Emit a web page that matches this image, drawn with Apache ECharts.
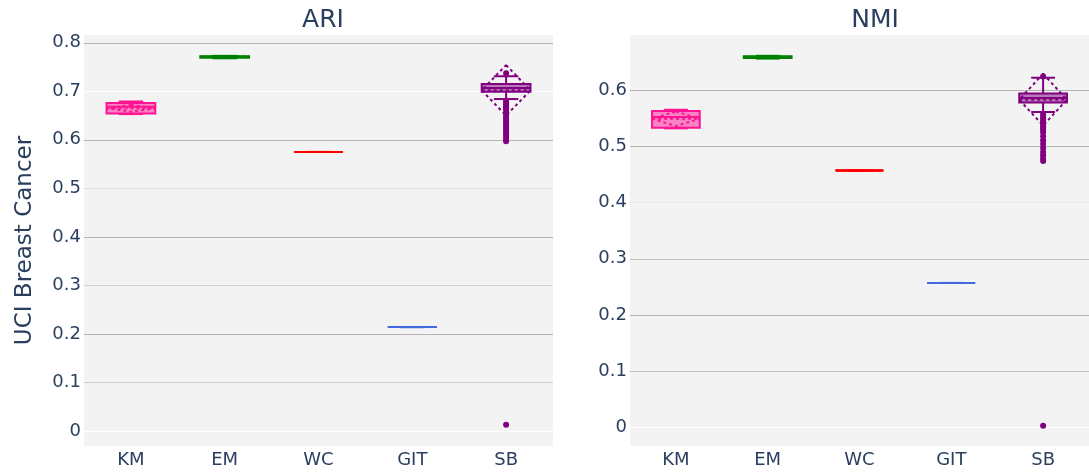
<!DOCTYPE html>
<html>

<head>
  <meta charset="utf-8" />
  <script src="https://cdn.jsdelivr.net/npm/echarts@6/dist/echarts.min.js"></script>
</head>

<body style="margin:0;background:#fff">
  <div id="main" style="width:1089px;height:472px;"></div>
  <script type="text/javascript">
    var categories = ['KM', 'EM', 'WC', 'GIT', 'SB']
    var boxColors = ['#ff1493', '#008000', '#ff0000', '#4169e1', '#800080']
    var ariTicks = [0, 0.1, 0.2, 0.3, 0.4, 0.5, 0.6, 0.7, 0.8]
    var nmiTicks = [0, 0.1, 0.2, 0.3, 0.4, 0.5, 0.6]

    // [min, q1, median, q3, max, mean, sd]
    var ariStats = [
      [0.653, 0.654, 0.668, 0.676, 0.679, 0.665, 0.007],
      [0.768, 0.769, 0.771, 0.772, 0.773, 0.771, 0.001],
      [0.575, 0.575, 0.575, 0.575, 0.575, 0.575, 0],
      [0.214, 0.214, 0.214, 0.214, 0.214, 0.214, 0],
      [0.684, 0.699, 0.707, 0.715, 0.731, 0.702, 0.052]
    ]
    var nmiStats = [
      [0.532, 0.533, 0.552, 0.563, 0.565, 0.549, 0.013],
      [0.656, 0.657, 0.659, 0.660, 0.661, 0.659, 0.001],
      [0.457, 0.457, 0.457, 0.457, 0.457, 0.457, 0],
      [0.257, 0.257, 0.257, 0.257, 0.257, 0.257, 0],
      [0.561, 0.578, 0.586, 0.594, 0.622, 0.583, 0.046]
    ]

    // [category index, value]
    var ariOutliers = [
      [4, 0.737], [4, 0.681], [4, 0.677], [4, 0.673], [4, 0.669], [4, 0.666],
      [4, 0.662], [4, 0.657], [4, 0.653], [4, 0.648], [4, 0.644], [4, 0.640],
      [4, 0.635], [4, 0.631], [4, 0.627], [4, 0.622], [4, 0.618], [4, 0.613],
      [4, 0.609], [4, 0.604], [4, 0.600], [4, 0.597], [4, 0.013]
    ]
    var nmiOutliers = [
      [4, 0.624], [4, 0.558], [4, 0.554], [4, 0.550], [4, 0.546], [4, 0.542],
      [4, 0.538], [4, 0.534], [4, 0.530], [4, 0.525], [4, 0.518], [4, 0.511],
      [4, 0.504], [4, 0.497], [4, 0.490], [4, 0.484], [4, 0.478], [4, 0.474],
      [4, 0.003]
    ]

    var ariGridColors = ['#ffffff', '#cfcfcf', '#b6b6b6', '#d2d2d2', '#b6b6b6', '#dcdcdc', '#b6b6b6', '#ffffff', '#b6b6b6']
    var nmiGridColors = ['#ffffff', '#bdbdbd', '#b4b4b4', '#c2c2c2', '#e8e8e8', '#b6b6b6', '#b6b6b6']

    var textColor = '#2a3f5f'
    var font = 'DejaVu Sans'

    var myChart = echarts.init(document.getElementById('main'))

    function fade(hex) {
      var r = parseInt(hex.slice(1, 3), 16), g = parseInt(hex.slice(3, 5), 16), b = parseInt(hex.slice(5, 7), 16)
      return 'rgba(' + r + ',' + g + ',' + b + ',0.5)'
    }

    // plotly-like box: box, median, whiskers with half caps, dashed mean line and sd diamond
    function renderBox(params, api) {
      var cat = api.value(0)
      var color = boxColors[cat]
      var hw = api.size([1, 0])[0] * 0.26
      var xc = api.coord([cat, 0])[0]
      var y = function (v) { return api.coord([cat, v])[1] }
      var yMin = y(api.value(1)), yQ1 = y(api.value(2)), yMed = y(api.value(3))
      var yQ3 = y(api.value(4)), yMax = y(api.value(5))
      var mean = api.value(6), sd = api.value(7)
      var yMean = y(mean), yTop = y(mean + sd), yBot = y(mean - sd)
      var solid = { stroke: color, lineWidth: 2, fill: null }
      var dashed = { stroke: color, lineWidth: 2, fill: null, lineDash: [3, 3], lineJoin: 'bevel' }
      var line = function (x1, y1, x2, y2, style) {
        return { type: 'line', shape: { x1: x1, y1: y1, x2: x2, y2: y2 }, style: style }
      }
      return {
        type: 'group',
        children: [
          { type: 'rect', shape: { x: xc - hw, y: yQ3, width: hw * 2, height: yQ1 - yQ3 },
            style: { fill: fade(color), stroke: color, lineWidth: 2 } },
          line(xc, yQ3, xc, yMax, solid),
          line(xc, yQ1, xc, yMin, solid),
          line(xc - hw / 2, yMax, xc + hw / 2, yMax, solid),
          line(xc - hw / 2, yMin, xc + hw / 2, yMin, solid),
          line(xc - hw, yMed, xc + hw, yMed, solid),
          line(xc - hw, yMean, xc + hw, yMean, dashed),
          { type: 'polygon', shape: { points: [[xc, yTop], [xc + hw, yMean], [xc, yBot], [xc - hw, yMean]] },
            style: dashed }
        ]
      }
    }

    function yAxisFor(idx, ticks, min, max, gridColors, name) {
      return {
        type: 'value', gridIndex: idx, min: min, max: max,
        name: name, nameLocation: 'middle', nameGap: 47, nameRotate: 90,
        nameTextStyle: { color: textColor, fontSize: 23, fontFamily: font },
        axisLine: { show: false },
        axisTick: { show: false, customValues: ticks },
        axisLabel: { customValues: ticks, color: textColor, fontSize: 18, fontFamily: font, margin: 3,
          formatter: function (v) { return v === 0 ? '0' : String(Math.round(v * 10) / 10) } },
        splitLine: { show: true, lineStyle: { color: gridColors, width: 1 } }
      }
    }

    function xAxisFor(idx) {
      return {
        type: 'category', gridIndex: idx, data: categories,
        axisLine: { show: false }, axisTick: { show: false },
        axisLabel: { color: textColor, fontSize: 18, fontFamily: font, margin: 5 },
        splitLine: { show: false }
      }
    }

    var option = {
      backgroundColor: '#ffffff',
      animation: false,
      title: [
        { text: 'ARI', left: 318, top: 3, textAlign: 'center',
          textStyle: { color: textColor, fontSize: 25, fontWeight: 'normal', fontFamily: font } },
        { text: 'NMI', left: 870, top: 3, textAlign: 'center',
          textStyle: { color: textColor, fontSize: 25, fontWeight: 'normal', fontFamily: font } }
      ],
      grid: [
        { left: 84, top: 35, width: 469, height: 411, show: true, backgroundColor: '#f3f3f3', borderWidth: 0 },
        { left: 630, top: 35, width: 470, height: 411, show: true, backgroundColor: '#f3f3f3', borderWidth: 0 }
      ],
      xAxis: [xAxisFor(0), xAxisFor(1)],
      yAxis: [
        yAxisFor(0, ariTicks, -0.031, 0.816, ariGridColors, 'UCI Breast Cancer'),
        yAxisFor(1, nmiTicks, -0.033, 0.698, nmiGridColors, '')
      ],
      series: [
        { type: 'custom', xAxisIndex: 0, yAxisIndex: 0, renderItem: renderBox,
          encode: { x: 0, y: [1, 2, 3, 4, 5] },
          data: ariStats.map(function (s, i) { return [i].concat(s) }) },
        { type: 'custom', xAxisIndex: 1, yAxisIndex: 1, renderItem: renderBox,
          encode: { x: 0, y: [1, 2, 3, 4, 5] },
          data: nmiStats.map(function (s, i) { return [i].concat(s) }) },
        { type: 'scatter', xAxisIndex: 0, yAxisIndex: 0, symbolSize: 6, data: ariOutliers,
          itemStyle: { color: function (p) { return boxColors[p.value[0]] }, opacity: 1 } },
        { type: 'scatter', xAxisIndex: 1, yAxisIndex: 1, symbolSize: 6, data: nmiOutliers,
          itemStyle: { color: function (p) { return boxColors[p.value[0]] }, opacity: 1 } }
      ]
    }

    myChart.setOption(option)
  </script>
</body>

</html>
